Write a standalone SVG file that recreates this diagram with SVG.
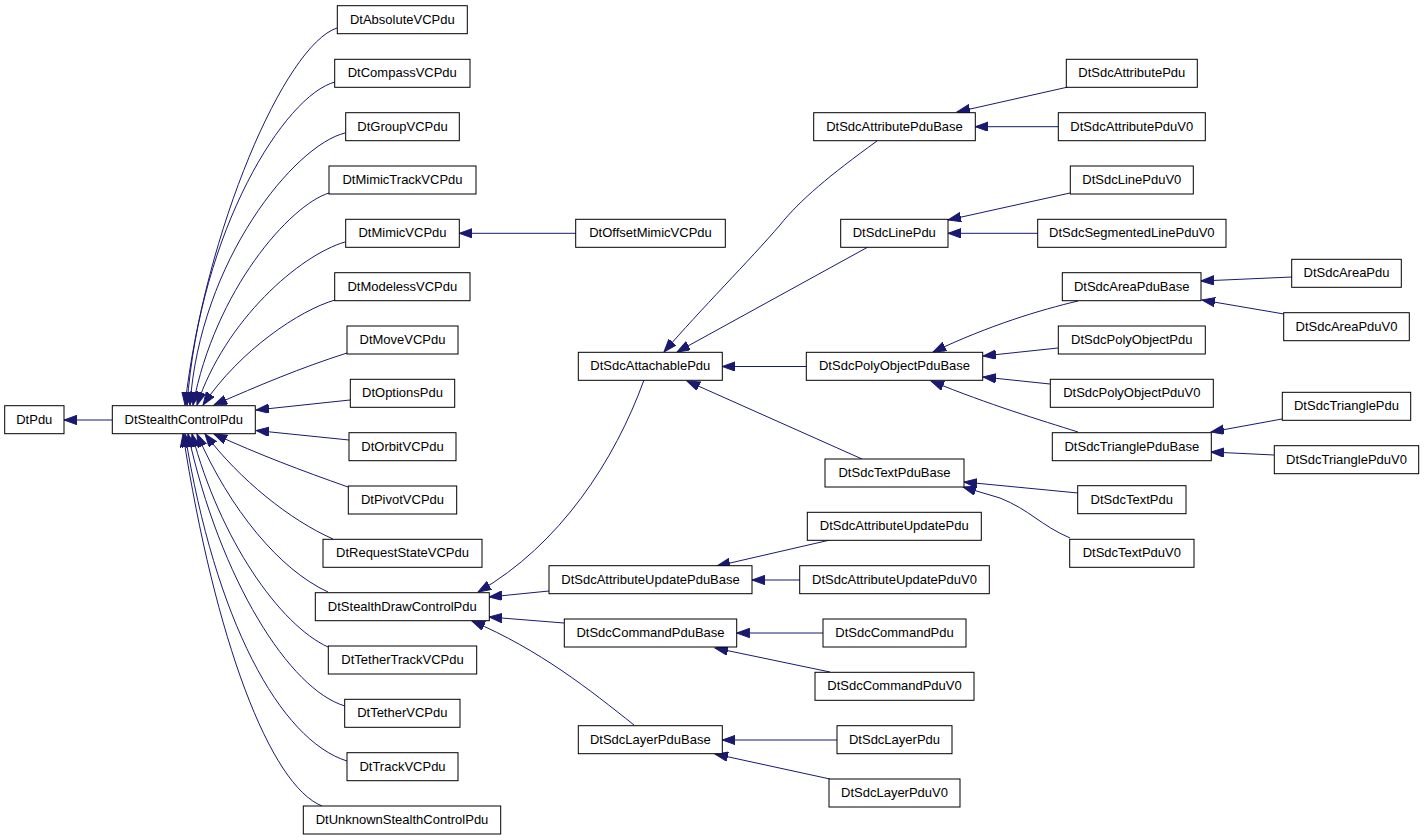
<svg xmlns="http://www.w3.org/2000/svg" width="1424" height="840" viewBox="0 0 1424 840">
<style>
.n rect{fill:#fff;stroke:#000;stroke-width:1}
.n text{font-family:"Liberation Sans",Arial,Helvetica,sans-serif;font-size:13px;text-anchor:middle;fill:#000}
#edges path{fill:none;stroke:#191970;stroke-width:1;marker-end:url(#arr)}
</style>
<defs>
<marker id="arr" markerUnits="userSpaceOnUse" markerWidth="14" markerHeight="10" refX="13" refY="4.7" orient="auto">
<path d="M0,0 L13,4.7 L0,9.4 z" fill="#191970" stroke="#191970" stroke-width="1"/>
</marker>
</defs>
<rect width="1424" height="840" fill="#fff"/>
<g id="edges">
<path d="M112,420 L64,420"/>
<path d="M337,28 C285,45 205,230 185,405"/>
<path d="M335,82 C285,95 200,230 187,405"/>
<path d="M345,133 C295,145 200,260 190,405"/>
<path d="M329,193 C290,205 215,290 193,405"/>
<path d="M345,242 C300,255 225,320 197,405"/>
<path d="M335,300 C300,310 240,350 203,405"/>
<path d="M347,353 C300,368 260,385 214,405"/>
<path d="M350,400 L256,410"/>
<path d="M349,440 L256,430.5"/>
<path d="M348,487 C300,470 260,455 214,434"/>
<path d="M333,539 C290,520 240,480 205,434"/>
<path d="M328,592 C280,570 230,510 197,434"/>
<path d="M328,647 C280,625 220,540 192,434"/>
<path d="M345,706 C290,690 220,580 188,434"/>
<path d="M347,761 C280,740 215,620 185,434"/>
<path d="M322,806 C270,785 215,640 183,434"/>
<path d="M576,233.3 L459.3,233.3"/>
<path d="M644,380 C615,460 560,545 478,592"/>
<path d="M549,591 L489,597"/>
<path d="M564,623 L489,617"/>
<path d="M634,725 C590,690 540,650 472,621"/>
<path d="M877,141 C830,175 800,200 780,225 C750,260 700,310 664,352"/>
<path d="M868,247 L677,352"/>
<path d="M806,366.5 L722.3,366.5"/>
<path d="M862,459 L687,381"/>
<path d="M1068,87 L957,112"/>
<path d="M1058,126.7 L975.3,126.7"/>
<path d="M1070,193 L948,220"/>
<path d="M1038,233.3 L948,233.3"/>
<path d="M1078,301 C1040,310 990,325 933,352"/>
<path d="M1058,348 L983,356"/>
<path d="M1050,384 L983,377"/>
<path d="M1078,432 C1040,420 990,405 931,381"/>
<path d="M1292,277 L1201,281"/>
<path d="M1284,314 L1202,300"/>
<path d="M1282,419 L1211,432"/>
<path d="M1274,455 L1211,452"/>
<path d="M1078,493 L964,482"/>
<path d="M1070,538 C1040,525 1030,510 1000,498 L963,487"/>
<path d="M830,540 L717,566"/>
<path d="M800,580 L752,580"/>
<path d="M823,633 L736.7,633"/>
<path d="M830,672 L715,648"/>
<path d="M837,740 L722.3,740"/>
<path d="M830,779 L715,754"/>
</g>
<g id="DtPdu" class="n"><rect x="4.7" y="405.7" width="59.3" height="28"/><text x="34.3" y="423.7">DtPdu</text></g>
<g id="DtStealthControlPdu" class="n"><rect x="112.3" y="405.7" width="143" height="28"/><text x="183.8" y="423.7">DtStealthControlPdu</text></g>
<g id="DtAbsoluteVCPdu" class="n"><rect x="337.3" y="5.7" width="130" height="28"/><text x="402.3" y="23.7">DtAbsoluteVCPdu</text></g>
<g id="DtCompassVCPdu" class="n"><rect x="334.7" y="59.3" width="135.3" height="28"/><text x="402.3" y="77.3">DtCompassVCPdu</text></g>
<g id="DtGroupVCPdu" class="n"><rect x="345.7" y="112.7" width="113.6" height="28"/><text x="402.5" y="130.7">DtGroupVCPdu</text></g>
<g id="DtMimicTrackVCPdu" class="n"><rect x="329" y="166" width="147" height="28"/><text x="402.5" y="184">DtMimicTrackVCPdu</text></g>
<g id="DtMimicVCPdu" class="n"><rect x="345.7" y="219.3" width="113.6" height="28"/><text x="402.5" y="237.3">DtMimicVCPdu</text></g>
<g id="DtModelessVCPdu" class="n"><rect x="334.7" y="272.7" width="135.3" height="28"/><text x="402.3" y="290.7">DtModelessVCPdu</text></g>
<g id="DtMoveVCPdu" class="n"><rect x="347" y="326" width="111" height="28"/><text x="402.5" y="344">DtMoveVCPdu</text></g>
<g id="DtOptionsPdu" class="n"><rect x="350.3" y="379.3" width="104.4" height="28"/><text x="402.5" y="397.3">DtOptionsPdu</text></g>
<g id="DtOrbitVCPdu" class="n"><rect x="349" y="432.7" width="107" height="28"/><text x="402.5" y="450.7">DtOrbitVCPdu</text></g>
<g id="DtPivotVCPdu" class="n"><rect x="348.3" y="486" width="108.4" height="28"/><text x="402.5" y="504">DtPivotVCPdu</text></g>
<g id="DtRequestStateVCPdu" class="n"><rect x="323" y="539.3" width="159" height="28"/><text x="402.5" y="557.3">DtRequestStateVCPdu</text></g>
<g id="DtStealthDrawControlPdu" class="n"><rect x="315.3" y="592.7" width="174" height="28"/><text x="402.3" y="610.7">DtStealthDrawControlPdu</text></g>
<g id="DtTetherTrackVCPdu" class="n"><rect x="328.3" y="646" width="148.4" height="28"/><text x="402.5" y="664">DtTetherTrackVCPdu</text></g>
<g id="DtTetherVCPdu" class="n"><rect x="344.7" y="699.3" width="115.3" height="28"/><text x="402.3" y="717.3">DtTetherVCPdu</text></g>
<g id="DtTrackVCPdu" class="n"><rect x="347" y="752.7" width="111" height="28"/><text x="402.5" y="770.7">DtTrackVCPdu</text></g>
<g id="DtUnknownStealthControlPdu" class="n"><rect x="303.3" y="806" width="197.4" height="28"/><text x="402" y="824">DtUnknownStealthControlPdu</text></g>
<g id="DtOffsetMimicVCPdu" class="n"><rect x="575.7" y="219.3" width="149.6" height="28"/><text x="650.5" y="237.3">DtOffsetMimicVCPdu</text></g>
<g id="DtSdcAttachablePdu" class="n"><rect x="578.3" y="352.3" width="144" height="28"/><text x="650.3" y="370.3">DtSdcAttachablePdu</text></g>
<g id="DtSdcAttributePduBase" class="n"><rect x="813.7" y="112.7" width="161.6" height="28"/><text x="894.5" y="130.7">DtSdcAttributePduBase</text></g>
<g id="DtSdcLinePdu" class="n"><rect x="840.7" y="219.3" width="107.3" height="28"/><text x="894.3" y="237.3">DtSdcLinePdu</text></g>
<g id="DtSdcPolyObjectPduBase" class="n"><rect x="806.3" y="352.3" width="176.4" height="28"/><text x="894.5" y="370.3">DtSdcPolyObjectPduBase</text></g>
<g id="DtSdcTextPduBase" class="n"><rect x="825" y="459" width="139" height="28"/><text x="894.5" y="477">DtSdcTextPduBase</text></g>
<g id="DtSdcAttributeUpdatePdu" class="n"><rect x="807.3" y="512.3" width="174" height="28"/><text x="894.3" y="530.3">DtSdcAttributeUpdatePdu</text></g>
<g id="DtSdcAttributeUpdatePduBase" class="n"><rect x="549" y="565.7" width="203" height="28"/><text x="650.5" y="583.7">DtSdcAttributeUpdatePduBase</text></g>
<g id="DtSdcAttributeUpdatePduV0" class="n"><rect x="799.7" y="565.7" width="189.6" height="28"/><text x="894.5" y="583.7">DtSdcAttributeUpdatePduV0</text></g>
<g id="DtSdcCommandPduBase" class="n"><rect x="564.3" y="619" width="172.4" height="28"/><text x="650.5" y="637">DtSdcCommandPduBase</text></g>
<g id="DtSdcCommandPdu" class="n"><rect x="823" y="619" width="143" height="28"/><text x="894.5" y="637">DtSdcCommandPdu</text></g>
<g id="DtSdcCommandPduV0" class="n"><rect x="815" y="672.3" width="159" height="28"/><text x="894.5" y="690.3">DtSdcCommandPduV0</text></g>
<g id="DtSdcLayerPduBase" class="n"><rect x="578.3" y="725.7" width="144" height="28"/><text x="650.3" y="743.7">DtSdcLayerPduBase</text></g>
<g id="DtSdcLayerPdu" class="n"><rect x="837" y="725.7" width="115" height="28"/><text x="894.5" y="743.7">DtSdcLayerPdu</text></g>
<g id="DtSdcLayerPduV0" class="n"><rect x="829" y="779" width="131" height="28"/><text x="894.5" y="797">DtSdcLayerPduV0</text></g>
<g id="DtSdcAttributePdu" class="n"><rect x="1066.3" y="59.3" width="131" height="28"/><text x="1131.8" y="77.3">DtSdcAttributePdu</text></g>
<g id="DtSdcAttributePduV0" class="n"><rect x="1058.3" y="112.7" width="147" height="28"/><text x="1131.8" y="130.7">DtSdcAttributePduV0</text></g>
<g id="DtSdcLinePduV0" class="n"><rect x="1070.3" y="166" width="123" height="28"/><text x="1131.8" y="184">DtSdcLinePduV0</text></g>
<g id="DtSdcSegmentedLinePduV0" class="n"><rect x="1037.7" y="219.3" width="188.3" height="28"/><text x="1131.8" y="237.3">DtSdcSegmentedLinePduV0</text></g>
<g id="DtSdcAreaPdu" class="n"><rect x="1291.7" y="259.3" width="109.6" height="28"/><text x="1346.5" y="277.3">DtSdcAreaPdu</text></g>
<g id="DtSdcAreaPduBase" class="n"><rect x="1062.3" y="272.7" width="138.7" height="28"/><text x="1131.7" y="290.7">DtSdcAreaPduBase</text></g>
<g id="DtSdcAreaPduV0" class="n"><rect x="1283.7" y="312.7" width="125.6" height="28"/><text x="1346.5" y="330.7">DtSdcAreaPduV0</text></g>
<g id="DtSdcPolyObjectPdu" class="n"><rect x="1058.3" y="326" width="147" height="28"/><text x="1131.8" y="344">DtSdcPolyObjectPdu</text></g>
<g id="DtSdcPolyObjectPduV0" class="n"><rect x="1050.3" y="379.3" width="163" height="28"/><text x="1131.8" y="397.3">DtSdcPolyObjectPduV0</text></g>
<g id="DtSdcTrianglePdu" class="n"><rect x="1282.3" y="392.3" width="128.4" height="28"/><text x="1346.5" y="410.3">DtSdcTrianglePdu</text></g>
<g id="DtSdcTrianglePduBase" class="n"><rect x="1052.3" y="432.7" width="159" height="28"/><text x="1131.8" y="450.7">DtSdcTrianglePduBase</text></g>
<g id="DtSdcTrianglePduV0" class="n"><rect x="1274.3" y="445.7" width="144.4" height="28"/><text x="1346.5" y="463.7">DtSdcTrianglePduV0</text></g>
<g id="DtSdcTextPdu" class="n"><rect x="1077.7" y="485.7" width="108.3" height="28"/><text x="1131.8" y="503.7">DtSdcTextPdu</text></g>
<g id="DtSdcTextPduV0" class="n"><rect x="1069.7" y="539.3" width="124.3" height="28"/><text x="1131.8" y="557.3">DtSdcTextPduV0</text></g>
</svg>
